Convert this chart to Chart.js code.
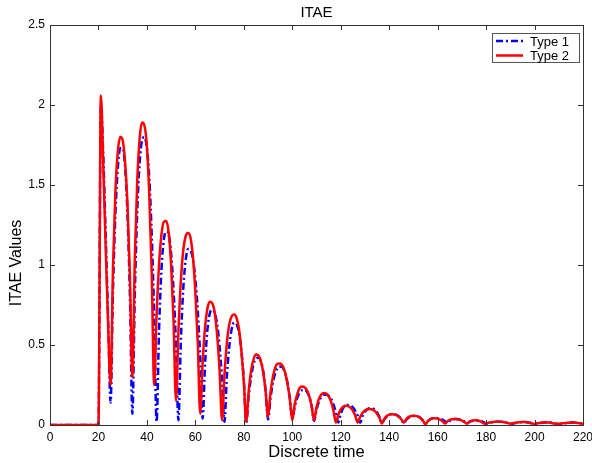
<!DOCTYPE html>
<html>
<head>
<meta charset="utf-8">
<script src="https://cdn.jsdelivr.net/npm/chart.js@4.4.1/dist/chart.umd.min.js"></script>
<style>
  html, body { margin: 0; padding: 0; background: #fff; }
  #wrap { width: 592px; height: 463px; }
</style>
</head>
<body>
<div id="wrap"><canvas id="itae"></canvas></div>
<script>
// values at discrete time k = 0, 1, 2, ... 220
const seriesNames = ['Type 1', 'Type 2'];

const type1 = [
  0, 0, 0, 0, 0, 0, 0, 0, 0, 0,
  0, 0, 0, 0, 0, 0, 0, 0, 0, 0,
  0, 2.0, 1.68, 1.18, 0.66, 0.14, 0.84, 1.32, 1.61, 1.73,
  1.73, 1.61, 1.31, 0.80, 0.07, 0.81, 1.33, 1.64, 1.78, 1.80,
  1.73, 1.54, 1.18, 0.68, 0.02, 0.59, 0.97, 1.16, 1.21, 1.19,
  1.07, 0.84, 0.50, 0.03, 0.52, 0.85, 1.03, 1.10, 1.09, 1.04,
  0.91, 0.71, 0.42, 0.04, 0.38, 0.60, 0.70, 0.72, 0.70, 0.63,
  0.49, 0.29, 0.02, 0.305, 0.49, 0.60, 0.64, 0.63, 0.58, 0.465,
  0.28, 0.015, 0.18, 0.30, 0.38, 0.414, 0.42, 0.40, 0.335, 0.216,
  0.035, 0.167, 0.263, 0.325, 0.358, 0.365, 0.359, 0.326, 0.264, 0.17,
  0.04, 0.114, 0.168, 0.201, 0.217, 0.22, 0.209, 0.177, 0.117, 0.025,
  0.096, 0.145, 0.175, 0.188, 0.19, 0.183, 0.165, 0.129, 0.08, 0.015,
  0.07, 0.105, 0.122, 0.125, 0.122, 0.111, 0.089, 0.058, 0.015, 0.056,
  0.084, 0.099, 0.105, 0.104, 0.096, 0.078, 0.05, 0.01, 0.036, 0.053,
  0.063, 0.068, 0.068, 0.063, 0.053, 0.036, 0.01, 0.031, 0.045, 0.053,
  0.057, 0.057, 0.053, 0.043, 0.027, 0.005, 0.024, 0.036, 0.042, 0.044,
  0.043, 0.040, 0.033, 0.024, 0.01, 0.025, 0.033, 0.037, 0.037, 0.034,
  0.029, 0.021, 0.008, 0.018, 0.024, 0.027, 0.028, 0.027, 0.024, 0.018,
  0.008, 0.012, 0.016, 0.018, 0.02, 0.021, 0.021, 0.02, 0.017, 0.013,
  0.01, 0.008, 0.012, 0.015, 0.017, 0.018, 0.018, 0.017, 0.014, 0.011,
  0.008, 0.008, 0.011, 0.014, 0.016, 0.016, 0.016, 0.014, 0.011, 0.008,
  0.007, 0.007, 0.01, 0.012, 0.014, 0.015, 0.015, 0.014, 0.013, 0.011,
  0.009
];

const type2 = [
  0, 0, 0, 0, 0, 0, 0, 0, 0, 0,
  0, 0, 0, 0, 0, 0, 0, 0, 0, 0,
  0, 2.06, 1.62, 1.10, 0.62, 0.25, 0.98, 1.46, 1.71, 1.80,
  1.78, 1.64, 1.37, 0.92, 0.30, 1.03, 1.52, 1.79, 1.89, 1.87,
  1.74, 1.43, 0.94, 0.25, 0.69, 1.00, 1.19, 1.27, 1.275, 1.20,
  1.00, 0.65, 0.15, 0.58, 0.90, 1.09, 1.18, 1.20, 1.17, 1.05,
  0.83, 0.51, 0.07, 0.39, 0.61, 0.73, 0.77, 0.76, 0.70, 0.56,
  0.34, 0.03, 0.31, 0.51, 0.63, 0.68, 0.69, 0.67, 0.60, 0.46,
  0.27, 0.02, 0.21, 0.34, 0.41, 0.44, 0.435, 0.40, 0.33, 0.21,
  0.05, 0.20, 0.30, 0.36, 0.383, 0.384, 0.37, 0.33, 0.26, 0.16,
  0.03, 0.13, 0.19, 0.23, 0.24, 0.237, 0.218, 0.18, 0.116, 0.03,
  0.11, 0.163, 0.19, 0.20, 0.197, 0.18, 0.146, 0.091, 0.015, 0.064,
  0.097, 0.114, 0.12, 0.118, 0.109, 0.09, 0.058, 0.015, 0.05, 0.075,
  0.091, 0.099, 0.10, 0.097, 0.088, 0.07, 0.045, 0.01, 0.037, 0.056,
  0.065, 0.067, 0.066, 0.061, 0.051, 0.036, 0.015, 0.036, 0.049, 0.056,
  0.058, 0.057, 0.052, 0.042, 0.026, 0.005, 0.025, 0.037, 0.042, 0.042,
  0.039, 0.034, 0.024, 0.01, 0.023, 0.032, 0.036, 0.037, 0.036, 0.034,
  0.028, 0.020, 0.008, 0.020, 0.027, 0.030, 0.030, 0.027, 0.021, 0.01,
  0.01, 0.014, 0.017, 0.019, 0.02, 0.021, 0.021, 0.019, 0.016, 0.012,
  0.008, 0.011, 0.014, 0.016, 0.017, 0.018, 0.018, 0.016, 0.013, 0.01,
  0.007, 0.01, 0.013, 0.015, 0.016, 0.016, 0.015, 0.013, 0.01, 0.008,
  0.006, 0.009, 0.011, 0.013, 0.014, 0.015, 0.015, 0.014, 0.012, 0.01,
  0.008
];

const xTicks = [0, 20, 40, 60, 80, 100, 120, 140, 160, 180, 200, 220];
const yTicks = [0, 0.5, 1, 1.5, 2, 2.5];

const FONT = '"Liberation Sans", Arial, sans-serif';
const toPoints = (arr) => arr.map((v, k) => ({ x: k, y: v }));

// MATLAB-like box with inward ticks, title, y label and the legend box
const matlabFrame = {
  id: 'matlabFrame',
  afterDraw(chart) {
    const { ctx, chartArea: a, scales } = chart;
    ctx.save();
    ctx.strokeStyle = '#333';
    ctx.lineWidth = 1;
    ctx.beginPath();
    xTicks.forEach((t) => {
      const px = Math.round(scales.x.getPixelForValue(t)) + 0.5;
      ctx.moveTo(px, a.bottom); ctx.lineTo(px, a.bottom - 5);
      ctx.moveTo(px, a.top); ctx.lineTo(px, a.top + 5);
    });
    yTicks.forEach((t) => {
      const py = Math.round(scales.y.getPixelForValue(t)) + 0.5;
      ctx.moveTo(a.left, py); ctx.lineTo(a.left + 5, py);
      ctx.moveTo(a.right, py); ctx.lineTo(a.right - 5, py);
    });
    ctx.stroke();
    ctx.strokeRect(Math.round(a.left) + 0.5, Math.round(a.top) + 0.5,
      Math.round(a.right - a.left), Math.round(a.bottom - a.top));

    // title, centred over the axes
    ctx.fillStyle = '#000';
    ctx.textAlign = 'center';
    ctx.textBaseline = 'middle';
    ctx.font = '15px ' + FONT;
    ctx.fillText('ITAE', (a.left + a.right) / 2, 13);

    // y label
    ctx.save();
    ctx.translate(17, 263);
    ctx.rotate(-Math.PI / 2);
    ctx.font = '16px ' + FONT;
    ctx.fillText('ITAE Values', 0, 0);
    ctx.restore();

    // legend
    const lx = Math.round(a.right) - 91, ly = Math.round(a.top) + 8, lw = 87, lh = 29;
    ctx.textAlign = 'left';
    ctx.fillStyle = '#fff';
    ctx.fillRect(lx, ly, lw, lh);
    ctx.strokeStyle = '#555';
    ctx.strokeRect(lx + 0.5, ly + 0.5, lw, lh);
    ctx.font = '13px ' + FONT;
    chart.data.datasets.forEach((ds, i) => {
      const y = ly + 8 + i * 14.5;
      ctx.strokeStyle = ds.borderColor;
      ctx.lineWidth = ds.borderWidth;
      ctx.setLineDash(ds.borderDash || []);
      ctx.beginPath();
      ctx.moveTo(lx + 4, y); ctx.lineTo(lx + 31, y);
      ctx.stroke();
      ctx.setLineDash([]);
      ctx.fillStyle = '#000';
      ctx.fillText(ds.label, lx + 38, y + 1);
    });
    ctx.restore();
  }
};

new Chart(document.getElementById('itae'), {
  type: 'line',
  data: {
    datasets: [
      {
        label: seriesNames[0],
        data: toPoints(type1),
        borderColor: '#0000ff',
        borderWidth: 2.5,
        borderDash: [7, 3, 2, 3],
        pointRadius: 0,
        tension: 0.4,
        cubicInterpolationMode: 'monotone',
        order: 1
      },
      {
        label: seriesNames[1],
        data: toPoints(type2),
        borderColor: '#ff0000',
        borderWidth: 2.5,
        pointRadius: 0,
        tension: 0.4,
        cubicInterpolationMode: 'monotone',
        order: 0
      }
    ]
  },
  options: {
    responsive: true,
    maintainAspectRatio: false,
    animation: false,
    events: [],
    layout: { padding: { right: 0, top: 25 } },
    plugins: {
      legend: { display: false },
      tooltip: { enabled: false },
      title: { display: false }
    },
    scales: {
      x: {
        type: 'linear',
        min: 0,
        max: 220,
        afterBuildTicks: (s) => { s.ticks = xTicks.map((v) => ({ value: v })); },
        afterFit: (s) => { s.height = 38; s.paddingRight = 9; s.paddingLeft = 0; },
        grid: { display: false, drawTicks: false },
        border: { display: false },
        ticks: { color: '#000', font: { family: FONT, size: 12 }, padding: 5, maxRotation: 0 },
        title: {
          display: true,
          text: 'Discrete time',
          color: '#000',
          font: { family: FONT, size: 16.5 },
          padding: { top: 0, bottom: 1 }
        }
      },
      y: {
        min: 0,
        max: 2.5,
        afterBuildTicks: (s) => { s.ticks = yTicks.map((v) => ({ value: v })); },
        afterFit: (s) => { s.width = 50; s.paddingTop = 0; },
        grid: { display: false, drawTicks: false },
        border: { display: false },
        ticks: {
          color: '#000',
          font: { family: FONT, size: 12 },
          padding: 5,
          callback: (v) => String(v)
        },
        title: { display: false }
      }
    }
  },
  plugins: [matlabFrame]
});
</script>
</body>
</html>
